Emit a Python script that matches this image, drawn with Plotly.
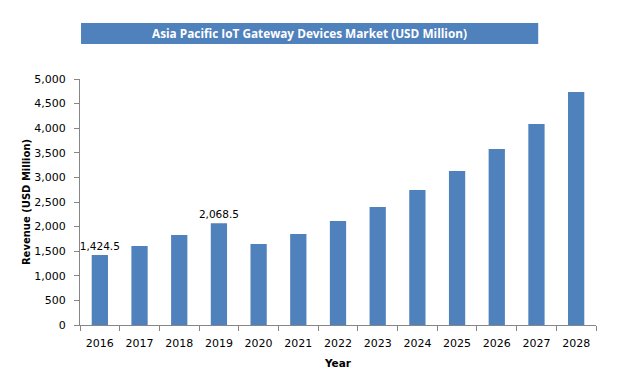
import plotly.graph_objects as go

years = ["2016", "2017", "2018", "2019", "2020", "2021", "2022",
         "2023", "2024", "2025", "2026", "2027", "2028"]
revenue = [1424.5, 1606, 1830, 2068.5, 1647, 1850, 2114,
           2399, 2745, 3131, 3578, 4086, 4737]
labeled_years = ["2016", "2019"]
y_ticks = [0, 500, 1000, 1500, 2000, 2500, 3000, 3500, 4000, 4500, 5000]
title_text = "Asia Pacific IoT Gateway Devices Market (USD Million)"

labels = [f"{v:,.1f}" if y in labeled_years else "" for y, v in zip(years, revenue)]

fig = go.Figure(go.Bar(
    x=years, y=revenue,
    marker=dict(color="#4F81BD", line=dict(width=0)),
    text=labels, textposition="outside", cliponaxis=False,
    constraintext="none",
    textfont=dict(family="DejaVu Sans", size=10.5, color="#000000"),
    width=0.41,
))

axis_font = dict(family="DejaVu Sans", size=11, color="#000000")
fig.update_layout(
    width=620, height=374,
    margin=dict(l=72, r=32, t=71, b=57),
    paper_bgcolor="white", plot_bgcolor="white",
    showlegend=False,
    xaxis=dict(
        type="category", showline=True, linecolor="#868686", linewidth=1,
        ticks="outside", tickson="boundaries", ticklen=5, tickcolor="#868686",
        tickfont=axis_font, showgrid=False, automargin=False,
        ticklabelstandoff=8,
        title=dict(text="<b>Year</b>", font=dict(family="DejaVu Sans", size=10.5, color="#000"), standoff=10),
    ),
    yaxis=dict(
        range=[0, 5000], tickvals=y_ticks, tickformat=",",
        showline=True, linecolor="#868686", linewidth=1,
        ticks="outside", ticklen=5, tickcolor="#868686",
        tickfont=axis_font, showgrid=False, zeroline=False, automargin=False,
        ticklabelstandoff=6,
        title=dict(text="<b>Revenue (USD Million)</b>", font=dict(family="DejaVu Sans", size=10, color="#000"), standoff=1),
    ),
    shapes=[dict(type="rect", xref="paper", yref="paper",
                 x0=0.002, x1=0.888, y0=1.142, y1=1.228,
                 fillcolor="#4F81BD", line=dict(width=0), layer="above")],
    annotations=[dict(text=f"<b>{title_text}</b>", xref="paper", yref="paper",
                      x=0.445, y=1.185, showarrow=False,
                      font=dict(family="Open Sans", size=11.8, color="white"),
                      xanchor="center", yanchor="middle")],
)

fig.write_html("out.html")
